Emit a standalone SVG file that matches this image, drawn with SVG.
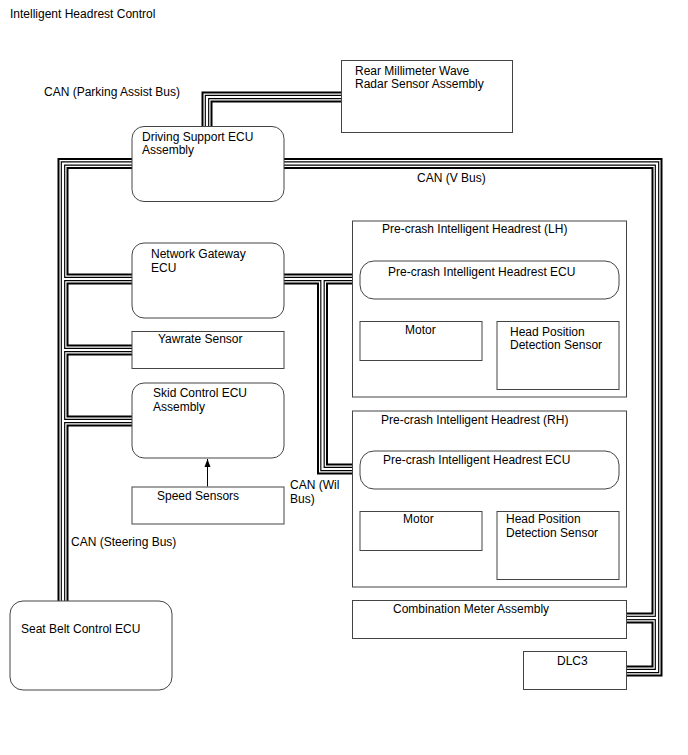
<svg xmlns="http://www.w3.org/2000/svg" xmlns:xlink="http://www.w3.org/1999/xlink" width="688" height="755" viewBox="0 0 688 755">
<style>
text{font-family:"Liberation Sans",Arial,sans-serif;font-size:12px;fill:#000}
.box{fill:#fff;stroke:#444;stroke-width:1}
.ln{fill:none;stroke:#444;stroke-width:1}
.b1{fill:none;stroke:#000;stroke-width:11;stroke-linejoin:miter;stroke-linecap:butt}
.b2{fill:none;stroke:#fff;stroke-width:7;stroke-linejoin:miter;stroke-linecap:butt}
.b3{fill:none;stroke:#000;stroke-width:4.5;stroke-linejoin:miter;stroke-linecap:butt}
.b4{fill:none;stroke:#fff;stroke-width:2.2;stroke-linejoin:miter;stroke-linecap:butt}
</style>
<defs>
<marker id="ah" viewBox="0 0 8 8" refX="8" refY="4" markerWidth="8" markerHeight="8" orient="auto" markerUnits="userSpaceOnUse">
<path d="M0,1 L8,4 L0,7 Z" fill="#000"/>
</marker>
<g id="buses">
<path d="M207,126 V97 H341"/>
<path d="M284,163.5 H657 V671 H627"/>
<path d="M657,618 H627"/>
<path d="M132,163.5 H63 V601"/>
<path d="M63,279 H132"/>
<path d="M63,350 H132"/>
<path d="M63,421 H132"/>
<path d="M284,279 H360"/>
<path d="M322.5,279 V469 H360"/>
</g>
</defs>
<text x="10" y="18">Intelligent Headrest Control</text>
<g id="connectors">
<use xlink:href="#buses" class="b1"/>
<use xlink:href="#buses" class="b2"/>
<use xlink:href="#buses" class="b3"/>
<use xlink:href="#buses" class="b4"/>
<path class="ln" d="M421.5,299 V321.5 M558.5,299 V321.5 M421.5,489 V511.5 M558.5,489 V511.5"/>
<path d="M207.5,486.5 V459" stroke="#000" stroke-width="1" fill="none" marker-end="url(#ah)"/>
</g>
<g id="labels">
<text x="44" y="96">CAN (Parking Assist Bus)</text>
<text x="417" y="182">CAN (V Bus)</text>
<text x="290" y="489">CAN (Wil</text>
<text x="290" y="503">Bus)</text>
<text x="71" y="546">CAN (Steering Bus)</text>
</g>
<g id="rear-radar">
<rect class="box" x="341.5" y="60.5" width="171" height="72"/>
<text x="355" y="75">Rear Millimeter Wave</text>
<text x="355" y="88">Radar Sensor Assembly</text>
</g>
<g id="driving-support">
<rect class="box" x="132" y="126.5" width="152" height="75" rx="12"/>
<text x="142" y="141">Driving Support ECU</text>
<text x="142" y="154">Assembly</text>
</g>
<g id="network-gateway">
<rect class="box" x="132" y="243" width="152" height="75" rx="12"/>
<text x="151" y="258">Network Gateway</text>
<text x="151" y="272">ECU</text>
</g>
<g id="yawrate">
<rect class="box" x="132" y="331.5" width="152" height="37"/>
<text x="158" y="343">Yawrate Sensor</text>
</g>
<g id="skid-control">
<rect class="box" x="132" y="383" width="152" height="75" rx="12"/>
<text x="153" y="397">Skid Control ECU</text>
<text x="153" y="411">Assembly</text>
</g>
<g id="speed-sensors">
<rect class="box" x="132" y="487" width="152" height="37"/>
<text x="157" y="500">Speed Sensors</text>
</g>
<g id="seat-belt">
<rect class="box" x="10" y="601" width="162" height="89" rx="13"/>
<text x="21" y="633">Seat Belt Control ECU</text>
</g>
<g id="headrest-lh">
<rect class="box" x="352.5" y="221" width="274" height="176"/>
<text x="382" y="233">Pre-crash Intelligent Headrest (LH)</text>
</g>
<g id="headrest-lh-ecu">
<rect class="box" x="360" y="261" width="259" height="38" rx="14"/>
<text x="388" y="276">Pre-crash Intelligent Headrest ECU</text>
</g>
<g id="motor-lh">
<rect class="box" x="360" y="321.5" width="122" height="39"/>
<text x="405" y="334">Motor</text>
</g>
<g id="headpos-lh">
<rect class="box" x="497" y="321.5" width="122" height="68"/>
<text x="510" y="336">Head Position</text>
<text x="510" y="349">Detection Sensor</text>
</g>
<g id="headrest-rh">
<rect class="box" x="352.5" y="411" width="274" height="176"/>
<text x="381" y="424">Pre-crash Intelligent Headrest (RH)</text>
</g>
<g id="headrest-rh-ecu">
<rect class="box" x="360" y="451" width="259" height="38" rx="14"/>
<text x="383" y="464">Pre-crash Intelligent Headrest ECU</text>
</g>
<g id="motor-rh">
<rect class="box" x="360" y="511.5" width="122" height="39"/>
<text x="403" y="523">Motor</text>
</g>
<g id="headpos-rh">
<rect class="box" x="497" y="511.5" width="122" height="68"/>
<text x="506" y="523">Head Position</text>
<text x="506" y="537">Detection Sensor</text>
</g>
<g id="combination-meter">
<rect class="box" x="352.5" y="600.5" width="274" height="38"/>
<text x="393" y="613">Combination Meter Assembly</text>
</g>
<g id="dlc3">
<rect class="box" x="523.5" y="651.5" width="103" height="38"/>
<text x="557" y="665">DLC3</text>
</g>
</svg>
